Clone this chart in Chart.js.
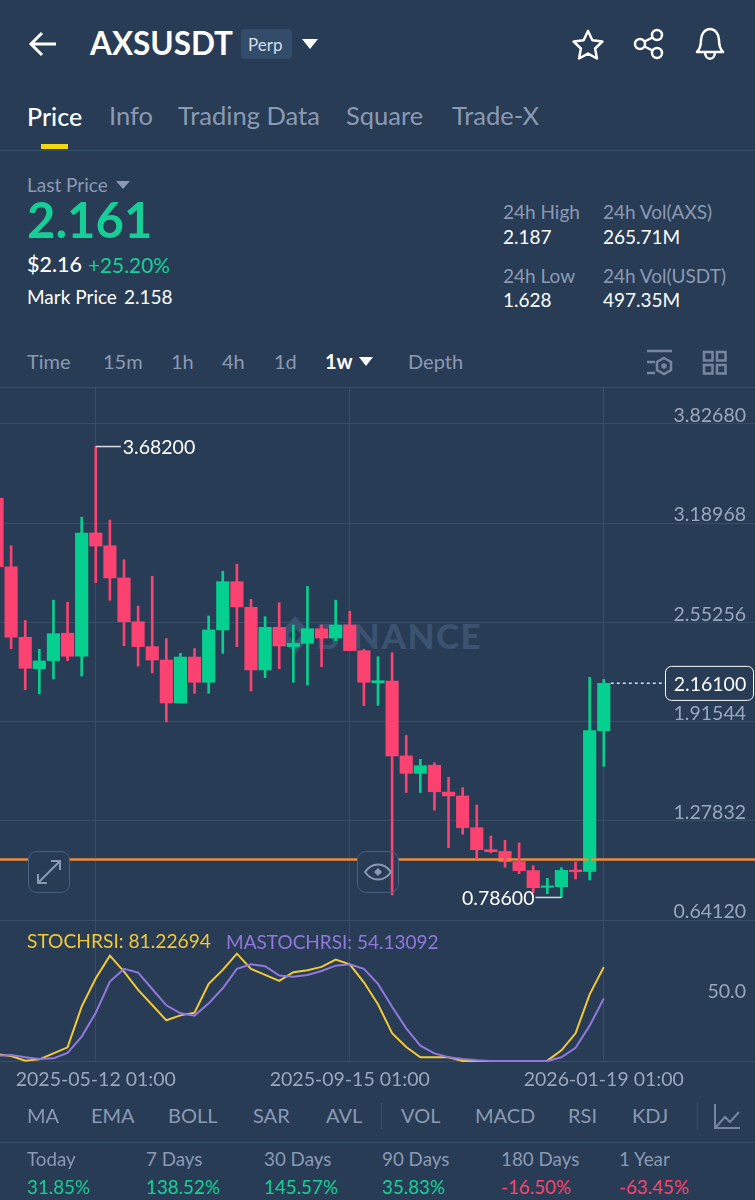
<!DOCTYPE html>
<html>
<head>
<meta charset="utf-8">
<title>AXSUSDT Perp</title>
<script src="https://cdn.jsdelivr.net/npm/chart.js@4/dist/chart.umd.min.js"></script>
<style>
  html, body { margin: 0; padding: 0; background: #283c55; }
  #page { position: relative; width: 755px; height: 1200px; overflow: hidden; background: #283c55; font-family: Lato, sans-serif; }
  .t { position: absolute; white-space: nowrap; line-height: 1; transform: translateY(calc(-50% - 1px)); }
  .w { color: #fff; }
  .g { color: #8b9ab3; }
  .up { color: #16cf96; }
  .dn { color: #f8446f; }
  .rule { position: absolute; background: #364f6b; }
  .tri { position: absolute; width: 0; height: 0; border-left: 7px solid transparent; border-right: 7px solid transparent; border-top: 9px solid #fff; }
  canvas { position: absolute; left: -3px; }
  svg { position: absolute; fill: none; }
  .btn { position: absolute; top: 851px; width: 40px; height: 40px; border: 1.5px solid #46607d; border-radius: 9px; }
  #mark { position: absolute; left: 277px; top: 615px; height: 40px; }
</style>
</head>
<body>
<div id="page">
  <svg style="left:28px;top:30px" width="32" height="28" stroke="#fff" stroke-width="3"><path d="M28 14H4M14 3L3 14l11 11"/></svg>
  <span class="t w" style="left:90px;top:45px;font-size:31.500px;font-weight:700">AXSUSDT</span>
  <div style="position:absolute;left:241px;top:29px;width:51px;height:30px;background:#334c6a;border-radius:4px"></div>
  <span class="t" style="left:248px;top:45px;font-size:17px;color:#d5dce6">Perp</span>
  <div class="tri" style="left:302px;top:39px;border-left-width:8px;border-right-width:8px;border-top-width:10px"></div>
  <svg style="left:571px;top:28px" width="34" height="34" stroke="#fff" stroke-width="2.500" stroke-linejoin="round"><path d="M17 3l4.4 9.2 10 1.3-7.3 7 1.9 10L17 25.6 8 30.500l1.900-10-7.300-7 10-1.300z"/></svg>
  <svg style="left:633px;top:28px" width="34" height="32" stroke="#fff" stroke-width="2.500"><circle cx="24" cy="7" r="5"/><circle cx="7" cy="16" r="5"/><circle cx="24" cy="25" r="5"/><path d="M11.500 13.500L19.500 9.500M11.500 18.500L19.500 22.500"/></svg>
  <svg style="left:694px;top:26px" width="32" height="36" stroke="#fff" stroke-width="2.500" stroke-linejoin="round"><path d="M3 26c3-3 4-6 4-12 0-6 4-11 9-11s9 5 9 11c0 6 1 9 4 12zM11 26c0 9 10 9 10 0"/></svg>

  <span class="t w" style="left:27px;top:117px;font-size:25px;font-weight:500">Price</span>
  <span class="t g" style="left:109px;top:117px;font-size:25.500px">Info</span>
  <span class="t g" style="left:178px;top:117px;font-size:25.500px">Trading Data</span>
  <span class="t g" style="left:346px;top:117px;font-size:25.500px">Square</span>
  <span class="t g" style="left:452px;top:117px;font-size:25.500px">Trade-X</span>
  <div style="position:absolute;left:41px;top:144px;width:27px;height:5px;background:#f3d70f"></div>
  <div class="rule" style="left:0;top:150px;width:755px;height:1px"></div>

  <span class="t g" style="left:27px;top:185px;font-size:19px">Last Price</span>
  <div class="tri" style="left:116px;top:181px;border-left-width:7px;border-right-width:7px;border-top-width:8px;border-top-color:#8b9ab3"></div>
  <span class="t up" style="left:27px;top:220px;font-size:49px;font-weight:700">2.161</span>
  <span class="t w" style="left:27px;top:266px;font-size:21.500px;font-weight:500">$2.16</span>
  <span class="t up" style="left:88px;top:266px;font-size:20.800px">+25.20%</span>
  <span class="t w" style="left:27px;top:297px;font-size:19px">Mark Price</span>
  <span class="t w" style="left:124px;top:297px;font-size:19px">2.158</span>
  <span class="t g" style="left:503px;top:212px;font-size:19px">24h High</span>
  <span class="t w" style="left:503px;top:237px;font-size:19px">2.187</span>
  <span class="t g" style="left:603px;top:212px;font-size:19px">24h Vol(AXS)</span>
  <span class="t w" style="left:603px;top:237px;font-size:19px">265.71M</span>
  <span class="t g" style="left:503px;top:276px;font-size:19px">24h Low</span>
  <span class="t w" style="left:503px;top:300px;font-size:19px">1.628</span>
  <span class="t g" style="left:603px;top:276px;font-size:19px">24h Vol(USDT)</span>
  <span class="t w" style="left:603px;top:300px;font-size:19px">497.35M</span>

  <span class="t g" style="left:27px;top:362px;font-size:20px">Time</span>
  <span class="t g" style="left:103px;top:362px;font-size:20px">15m</span>
  <span class="t g" style="left:171px;top:362px;font-size:20px">1h</span>
  <span class="t g" style="left:222px;top:362px;font-size:20px">4h</span>
  <span class="t g" style="left:274px;top:362px;font-size:20px">1d</span>
  <span class="t w" style="left:325px;top:362px;font-size:20px;font-weight:700">1w</span>
  <div class="tri" style="left:359px;top:357px"></div>
  <span class="t g" style="left:408px;top:362px;font-size:20px">Depth</span>
  <svg style="left:646px;top:349px" width="28" height="28" stroke="#76869f" stroke-width="2.500"><path d="M1 2h25M1 13h8M1 24h8"/><path d="M18 9l7 4v8l-7 4-7-4v-8z"/><circle cx="18" cy="17" r="1.500"/></svg>
  <svg style="left:702px;top:350px" width="26" height="26" stroke="#76869f" stroke-width="2.500"><rect x="2" y="2" width="8.500" height="8.500"/><rect x="15" y="2" width="8.500" height="8.500"/><rect x="2" y="15" width="8.500" height="8.500"/><rect x="15" y="15" width="8.500" height="8.500"/></svg>
  <div class="rule" style="left:0;top:387px;width:755px;height:1px"></div>

  <svg id="mark" width="36" height="40" stroke="none"><path d="M18 1l17 19-17 19L1 20z" fill="#3b5270"/><path d="M18 13l7 7-7 7-7-7z" fill="#283c55"/></svg>
  <span class="t" style="left:316px;top:636px;font-size:35px;font-weight:900;letter-spacing:1.500px;color:#3b5270">BINANCE</span>

  <canvas id="priceChart" width="762" height="534" style="top:387px"></canvas>
  <canvas id="rsiChart" width="762" height="170" style="top:920px"></canvas>

  <div class="btn" style="left:28px"></div>
  <svg style="left:36px;top:859px" width="26" height="26" stroke="#8b9ab3" stroke-width="2"><path d="M24 2L2 24M15 2h9v9M2 15v9h9"/></svg>
  <div class="btn" style="left:357px"></div>
  <svg style="left:364px;top:862px" width="28" height="20" stroke="#8b9ab3" stroke-width="2" stroke-linejoin="round"><path d="M1 10C8 0 20 0 27 10 20 20 8 20 1 10z"/><path d="M14 6l4 4-4 4-4-4z" fill="#8b9ab3" stroke="none"/></svg>

  <span class="t" style="left:27px;top:942px;font-size:19.200px;color:#f3c935">STOCHRSI: 81.22694</span>
  <span class="t" style="left:226px;top:942px;font-size:19px;color:#9178dc">MASTOCHRSI: 54.13092</span>

  <span class="t g" style="left:27px;top:1116px;font-size:20px">MA</span>
  <span class="t g" style="left:91px;top:1116px;font-size:20px">EMA</span>
  <span class="t g" style="left:168px;top:1116px;font-size:20px">BOLL</span>
  <span class="t g" style="left:253px;top:1116px;font-size:20px">SAR</span>
  <span class="t g" style="left:326px;top:1116px;font-size:20px">AVL</span>
  <div class="rule" style="left:381px;top:1103px;width:1px;height:26px"></div>
  <span class="t g" style="left:401px;top:1116px;font-size:20px">VOL</span>
  <span class="t g" style="left:475px;top:1116px;font-size:20px">MACD</span>
  <span class="t g" style="left:568px;top:1116px;font-size:20px">RSI</span>
  <span class="t g" style="left:632px;top:1116px;font-size:20px">KDJ</span>
  <div class="rule" style="left:697px;top:1103px;width:1px;height:26px"></div>
  <svg style="left:713px;top:1103px" width="28" height="28" stroke="#76869f" stroke-width="2"><path d="M2 1v24h25M3 24l9-10 5 5 9-10"/></svg>
  <div class="rule" style="left:0;top:1142px;width:755px;height:1px"></div>

  <span class="t g" style="left:27px;top:1160px;font-size:18.800px">Today</span>
  <span class="t g" style="left:146px;top:1160px;font-size:18.800px">7 Days</span>
  <span class="t g" style="left:264px;top:1160px;font-size:18.800px">30 Days</span>
  <span class="t g" style="left:382px;top:1160px;font-size:18.800px">90 Days</span>
  <span class="t g" style="left:501px;top:1160px;font-size:18.800px">180 Days</span>
  <span class="t g" style="left:619px;top:1160px;font-size:18.800px">1 Year</span>
  <span class="t up" style="left:27px;top:1188px;font-size:18.800px">31.85%</span>
  <span class="t up" style="left:146px;top:1188px;font-size:18.800px">138.52%</span>
  <span class="t up" style="left:264px;top:1188px;font-size:18.800px">145.57%</span>
  <span class="t up" style="left:382px;top:1188px;font-size:18.800px">35.83%</span>
  <span class="t dn" style="left:501px;top:1188px;font-size:18.800px">-16.50%</span>
  <span class="t dn" style="left:619px;top:1188px;font-size:18.800px">-63.45%</span>
</div>

<script>
const BG = '#283c55';
const GRID = '#384e67';
const GREEN = '#06d08f';
const RED = '#fb4270';
const FONT = 'Lato, sans-serif';
const TICK_SIZE = 19.5;

const weeks = [
  '2025-03-24', '2025-03-31', '2025-04-07', '2025-04-14', '2025-04-21', '2025-04-28', '2025-05-05', '2025-05-12',
  '2025-05-19', '2025-05-26', '2025-06-02', '2025-06-09', '2025-06-16', '2025-06-23', '2025-06-30', '2025-07-07',
  '2025-07-14', '2025-07-21', '2025-07-28', '2025-08-04', '2025-08-11', '2025-08-18', '2025-08-25', '2025-09-01',
  '2025-09-08', '2025-09-15', '2025-09-22', '2025-09-29', '2025-10-06', '2025-10-13', '2025-10-20', '2025-10-27',
  '2025-11-03', '2025-11-10', '2025-11-17', '2025-11-24', '2025-12-01', '2025-12-08', '2025-12-15', '2025-12-22',
  '2025-12-29', '2026-01-05', '2026-01-12', '2026-01-19'
];
// empty room to the right of the last candle
const blankWeeks = ['', '', '', '', '', '', '', '', '', '', ''];
const gridWeeks = ['2025-05-12', '2025-09-15', '2026-01-19'];

const opens = [
  3.350, 2.910, 2.457, 2.255, 2.307, 2.483, 2.335, 3.127, 3.045, 2.838, 2.557,
  2.397, 2.311, 2.035, 2.330, 2.168, 2.504, 2.814, 2.650, 2.247, 2.521, 2.397,
  2.418, 2.512, 2.452, 2.536, 2.371, 2.165, 2.176, 1.695, 1.583, 1.635, 1.463,
  1.438, 1.234, 1.093, 1.082, 1.016, 0.958, 0.851, 0.855, 0.962, 0.954, 1.857
];
const closes = [
  2.910, 2.457, 2.258, 2.305, 2.480, 2.335, 3.127, 3.043, 2.838, 2.557, 2.397,
  2.311, 2.035, 2.330, 2.168, 2.504, 2.814, 2.652, 2.247, 2.521, 2.401, 2.418,
  2.512, 2.452, 2.536, 2.371, 2.168, 2.178, 1.695, 1.583, 1.632, 1.465, 1.438,
  1.234, 1.093, 1.080, 1.016, 0.958, 0.849, 0.860, 0.960, 0.951, 1.857, 2.161
];
const highs = [
  3.350, 3.045, 2.566, 2.380, 2.695, 2.682, 3.228, 3.682, 3.210, 2.955, 2.658,
  2.849, 2.448, 2.354, 2.384, 2.594, 2.881, 2.926, 2.701, 2.589, 2.679, 2.536,
  2.784, 2.536, 2.695, 2.624, 2.380, 2.332, 2.358, 1.827, 1.673, 1.651, 1.558,
  1.491, 1.380, 1.181, 1.153, 1.136, 0.990, 0.909, 0.977, 1.014, 2.200, 2.187
];
const lows = [
  2.910, 2.384, 2.120, 2.093, 2.189, 2.307, 2.208, 2.808, 2.695, 2.403, 2.272,
  2.228, 1.913, 2.035, 2.097, 2.097, 2.354, 2.397, 2.112, 2.197, 2.255, 2.168,
  2.151, 2.268, 2.435, 2.371, 2.018, 2.020, 0.802, 1.460, 1.460, 1.346, 1.106,
  1.192, 1.033, 1.073, 0.980, 0.939, 0.815, 0.810, 0.786, 0.905, 0.898, 1.628
];
const stochRsi = [
  5.8, 4.3, 0.3, 1.4, 6.6, 11.8, 47.0, 71.6, 91.2, 77.3, 61.5,
  48.5, 35.2, 39.5, 41.8, 66.7, 78.8, 92.9, 79.7, 74.5, 69.3, 76.8,
  78.5, 81.4, 87.7, 83.7, 68.1, 49.1, 24.0, 12.1, 3.2, 3.2, 3.2,
  0, 0, 0, 0, 0, 0, 0.3, 9.2, 24.0, 57.7, 81.22694
];
const maStochRsi = [
  4.6, 5.2, 3.2, 1.7, 2.3, 6.9, 21.1, 41.8, 68.7, 79.7, 76.5,
  62.3, 48.2, 41.3, 39.3, 49.9, 62.9, 79.7, 83.7, 82.0, 73.9, 73.0,
  74.5, 77.9, 82.5, 83.7, 79.7, 66.7, 47.0, 28.3, 13.3, 6.6, 3.2,
  1.7, 0.6, 0, 0, 0, 0, 0, 3.2, 11.5, 30.6, 54.13092
];
const priceTicks = [3.8268, 3.18968, 2.55256, 1.91544, 1.27832, 0.6412];
const rsiTicks = [0, 50];
const alertPrice = 1.03;
const highMark = { week: '2025-05-12', price: 3.682 };
const lowMark = { week: '2025-12-29', price: 0.786 };
const lastPrice = 2.161;

const categories = weeks.concat(blankWeeks);

function candleColors () {
  return opens.map((open, i) => closes[i] >= open ? GREEN : RED);
}

function keepGridWeeks (scale) {
  scale.ticks = scale.ticks.filter(tick => gridWeeks.includes(categories[tick.value]));
}

// y axes sit inside the plot, so they must not take any room
function flattenAxis (scale) {
  scale.width = 0;
  scale.paddingTop = 0;
  scale.paddingBottom = 0;
}

function roundRect (ctx, x, y, w, h, r) {
  ctx.beginPath();
  ctx.roundRect(x, y, w, h, r);
}

// the two floating buttons hide the alert line but not the wicks
const buttonBacks = {
  id: 'buttonBacks',
  afterDatasetDraw (chart, args) {
    if (chart.data.datasets[args.index].label !== 'alert') return;
    const ctx = chart.ctx;
    ctx.save();
    ctx.fillStyle = BG;
    [31, 360].forEach(x => {
      roundRect(ctx, x, 464, 41, 41, 9);
      ctx.fill();
    });
    ctx.restore();
  }
};

const priceMarks = {
  id: 'priceMarks',
  afterDatasetsDraw (chart) {
    const ctx = chart.ctx, xs = chart.scales.x, ys = chart.scales.y;
    ctx.save();
    ctx.font = TICK_SIZE + 'px ' + FONT;
    ctx.textBaseline = 'middle';
    ctx.lineWidth = 1.5;

    let x = xs.getPixelForValue(weeks.indexOf(highMark.week)), y = ys.getPixelForValue(highMark.price);
    ctx.strokeStyle = '#d5dce6';
    ctx.beginPath(); ctx.moveTo(x, y); ctx.lineTo(x + 25, y); ctx.stroke();
    ctx.fillStyle = '#fff';
    ctx.textAlign = 'left';
    ctx.fillText('3.68200', x + 27, y + 1);

    x = xs.getPixelForValue(weeks.indexOf(lowMark.week));
    y = ys.getPixelForValue(lowMark.price);
    ctx.beginPath(); ctx.moveTo(x, y); ctx.lineTo(x - 26, y); ctx.stroke();
    ctx.textAlign = 'right';
    ctx.fillText('0.78600', x - 27, y + 1);

    x = xs.getPixelForValue(weeks.length - 1);
    y = ys.getPixelForValue(lastPrice);
    ctx.setLineDash([3, 3]);
    ctx.beginPath(); ctx.moveTo(x + 7, y); ctx.lineTo(668, y); ctx.stroke();
    ctx.setLineDash([]);
    ctx.fillStyle = BG;
    ctx.strokeStyle = '#fff';
    ctx.lineWidth = 1;
    roundRect(ctx, 668.5, y - 17, 88, 34, 6);
    ctx.fill();
    ctx.stroke();
    ctx.fillStyle = '#fff';
    ctx.textAlign = 'center';
    ctx.fillText('2.16100', 713, y + 1);
    ctx.restore();
  }
};

const colors = candleColors();

new Chart(document.getElementById('priceChart'), {
  type: 'bar',
  data: {
    labels: categories,
    datasets: [
      {
        label: 'body',
        data: opens.map((open, i) => [open, closes[i]]),
        backgroundColor: colors,
        barThickness: 12.5,
        grouped: false,
        order: 3
      },
      {
        type: 'line',
        label: 'alert',
        data: categories.map(() => alertPrice),
        borderColor: '#f08a33',
        borderWidth: 2.5,
        pointRadius: 0,
        order: 2
      },
      {
        label: 'wick',
        data: lows.map((low, i) => [low, highs[i]]),
        backgroundColor: colors,
        barThickness: 2,
        grouped: false,
        order: 1
      }
    ]
  },
  options: {
    responsive: false,
    animation: false,
    events: [],
    layout: { padding: { bottom: 1 } },
    plugins: { legend: { display: false }, tooltip: { enabled: false } },
    scales: {
      x: {
        offset: false,
        border: { display: false },
        grid: { color: GRID, drawTicks: false, offset: false },
        ticks: { display: false, autoSkip: false },
        afterBuildTicks: keepGridWeeks,
        afterFit: scale => { scale.height = 0; }
      },
      y: {
        position: 'right',
        min: 0.6412,
        max: 4.0644,
        border: { display: false },
        grid: { color: GRID, drawTicks: false },
        afterBuildTicks: scale => { scale.ticks = priceTicks.map(value => ({ value })); },
        afterFit: flattenAxis,
        ticks: {
          mirror: true,
          padding: -13,
          labelOffset: -8,
          color: '#9aa8bd',
          font: { family: FONT, size: TICK_SIZE },
          callback: value => value.toFixed(5)
        }
      }
    }
  },
  plugins: [buttonBacks, priceMarks]
});

new Chart(document.getElementById('rsiChart'), {
  type: 'line',
  data: {
    labels: categories,
    datasets: [
      { label: 'MASTOCHRSI', data: maStochRsi, borderColor: '#9178dc', order: 1 },
      { label: 'STOCHRSI', data: stochRsi, borderColor: '#f3c935', order: 2 }
    ].map(set => Object.assign(set, { borderWidth: 2, pointRadius: 0, tension: 0, clip: false }))
  },
  options: {
    responsive: false,
    animation: false,
    events: [],
    plugins: { legend: { display: false }, tooltip: { enabled: false } },
    scales: {
      x: {
        offset: false,
        border: { display: false },
        grid: { color: GRID, drawTicks: false },
        afterBuildTicks: keepGridWeeks,
        afterFit: scale => { scale.height = 29; },
        ticks: {
          autoSkip: false,
          maxRotation: 0,
          minRotation: 0,
          padding: 7,
          color: '#9aa8bd',
          font: { family: FONT, size: TICK_SIZE },
          callback: value => categories[value] + ' 01:00'
        }
      },
      y: {
        position: 'right',
        min: 0,
        max: 122,
        border: { display: false },
        grid: {
          drawTicks: false,
          color: ctx => ctx.tick.value === 0 ? GRID : 'transparent'
        },
        afterBuildTicks: scale => { scale.ticks = rsiTicks.map(value => ({ value })); },
        afterFit: flattenAxis,
        ticks: {
          mirror: true,
          padding: -13,
          labelOffset: -11,
          color: '#9aa8bd',
          font: { family: FONT, size: TICK_SIZE },
          callback: value => value === 50 ? '50.0' : ''
        }
      }
    }
  }
});
</script>
</body>
</html>
